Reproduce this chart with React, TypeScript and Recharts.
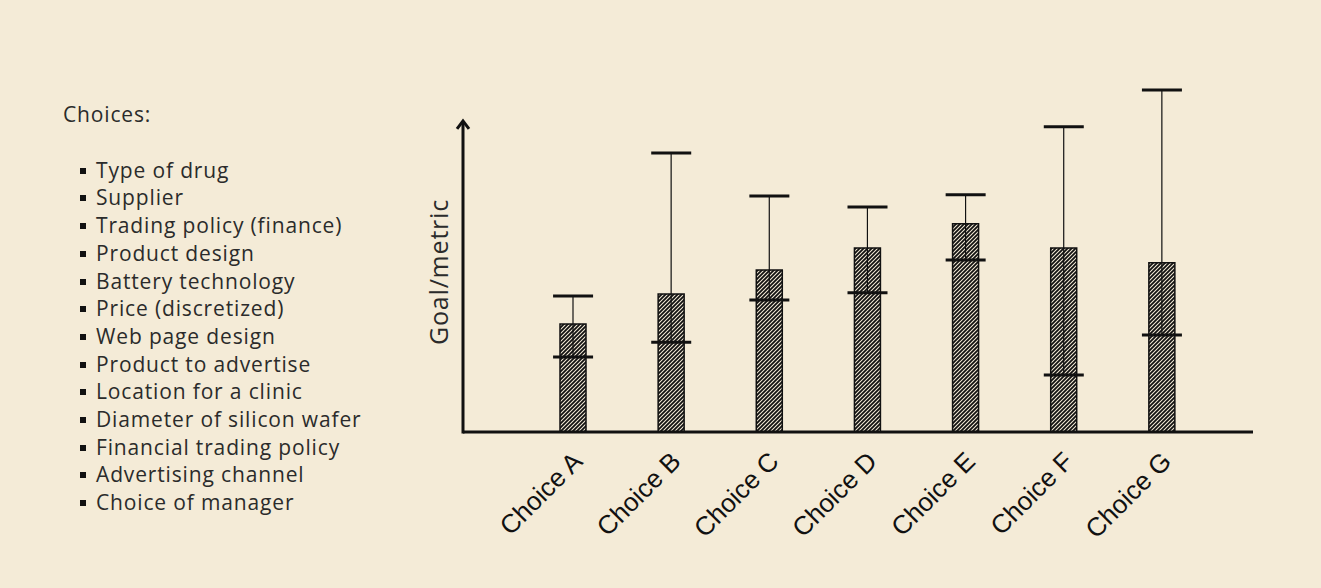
import { ComposedChart, Bar, ErrorBar, Scatter, XAxis, YAxis, ReferenceArea } from 'recharts';

const BG = '#f4ebd7';
const INK = '#111111';
const TEXT = '#2b2b2b';

const categories = ['Choice A', 'Choice B', 'Choice C', 'Choice D', 'Choice E', 'Choice F', 'Choice G'];
const barValues = [34.6, 44.2, 51.9, 59.0, 66.7, 59.0, 54.2];
const upperBounds = [43.6, 89.4, 75.6, 72.1, 76.0, 97.8, 109.6];
const lowerBounds = [24.0, 28.8, 42.3, 44.6, 55.1, 18.3, 31.1];

const choiceItems = [
  'Type of drug',
  'Supplier',
  'Trading policy (finance)',
  'Product design',
  'Battery technology',
  'Price (discretized)',
  'Web page design',
  'Product to advertise',
  'Location for a clinic',
  'Diameter of silicon wafer',
  'Financial trading policy',
  'Advertising channel',
  'Choice of manager',
];

const data = categories.map((name, i) => ({
  name,
  value: barValues[i],
  upper: upperBounds[i],
  lower: lowerBounds[i],
  err: [barValues[i] - lowerBounds[i], upperBounds[i] - barValues[i]],
}));

const W = 1321;
const H = 588;
const PAD_LEFT = 61;

function Cap(props: any) {
  const { cx, cy } = props;
  if (cx == null || cy == null) return null;
  return <line x1={cx - 20} x2={cx + 20} y1={cy} y2={cy} stroke={INK} strokeWidth={3} />;
}

function Tick(props: any) {
  const { x, y, payload } = props;
  const tx = x + 11;
  const ty = y + 23;
  return (
    <text
      x={tx}
      y={ty}
      transform={`rotate(-45 ${tx} ${ty})`}
      textAnchor="end"
      fontFamily="'Liberation Sans', Arial, sans-serif"
      fontSize={26}
      fill={INK}
    >
      {payload.value}
    </text>
  );
}

// y axis drawn as an arrow on the left edge of the plot
function AxisArrow(props: any) {
  const { x, y, height } = props;
  const ax = x - PAD_LEFT;
  const bottom = y + height;
  return (
    <g>
      <line x1={ax} x2={ax} y1={bottom + 1.5} y2={y + 1} stroke={INK} strokeWidth={3} />
      <polyline
        points={`${ax - 6},${y + 9} ${ax},${y + 1} ${ax + 6},${y + 9}`}
        fill="none"
        stroke={INK}
        strokeWidth={3}
      />
    </g>
  );
}

export default function App() {
  return (
    <div style={{ position: 'absolute', left: 0, top: 0, width: W, height: H, background: BG, overflow: 'hidden' }}>
      <div
        style={{
          position: 'absolute',
          left: 63,
          top: 101,
          fontFamily: "'Open Sans', sans-serif",
          fontSize: 21,
          letterSpacing: 0.85,
          color: TEXT,
          lineHeight: '27.7px',
        }}
      >
        <div>Choices:</div>
        <div style={{ height: 28 }} />
        {choiceItems.map((item) => (
          <div key={item} style={{ position: 'relative', paddingLeft: 33 }}>
            <span
              style={{
                position: 'absolute',
                left: 17,
                top: 11,
                width: 6,
                height: 6,
                background: '#111',
              }}
            />
            {item}
          </div>
        ))}
      </div>
      <div
        style={{
          position: 'absolute',
          left: 438,
          top: 272,
          transform: 'translate(-50%, -50%) rotate(-90deg)',
          fontFamily: "'Open Sans', sans-serif",
          fontSize: 25,
          letterSpacing: 0.8,
          color: TEXT,
          whiteSpace: 'nowrap',
        }}
      >
        Goal/metric
      </div>
      <ComposedChart
        width={W}
        height={H}
        data={data}
        margin={{ top: 80, right: 68, bottom: 56, left: 463 }}
        style={{ position: 'absolute', left: 0, top: 0 }}
        barCategoryGap={0}
      >
        <defs>
          <pattern id="hatch" width="4" height="4" patternUnits="userSpaceOnUse">
            <rect width="4" height="4" fill={BG} />
            <path d="M-1,1 l2,-2 M0,4 l4,-4 M3,5 l2,-2" stroke={INK} strokeWidth={1.8} />
          </pattern>
        </defs>
        <XAxis
          dataKey="name"
          height={100}
          padding={{ left: PAD_LEFT, right: 42 }}
          axisLine={{ stroke: INK, strokeWidth: 3 }}
          tickLine={false}
          tick={<Tick />}
          interval={0}
        />
        <YAxis hide domain={[0, 112.8]} allowDataOverflow />
        <ReferenceArea y1={0} y2={100} shape={<AxisArrow />} ifOverflow="visible" />
        <Bar dataKey="value" barSize={26} fill="url(#hatch)" stroke={INK} strokeWidth={1.5} isAnimationActive={false}>
          <ErrorBar dataKey="err" width={0} stroke={INK} strokeWidth={1.2} isAnimationActive={false} />
        </Bar>
        <Scatter dataKey="upper" shape={<Cap />} isAnimationActive={false} />
        <Scatter dataKey="lower" shape={<Cap />} isAnimationActive={false} />
      </ComposedChart>
    </div>
  );
}
